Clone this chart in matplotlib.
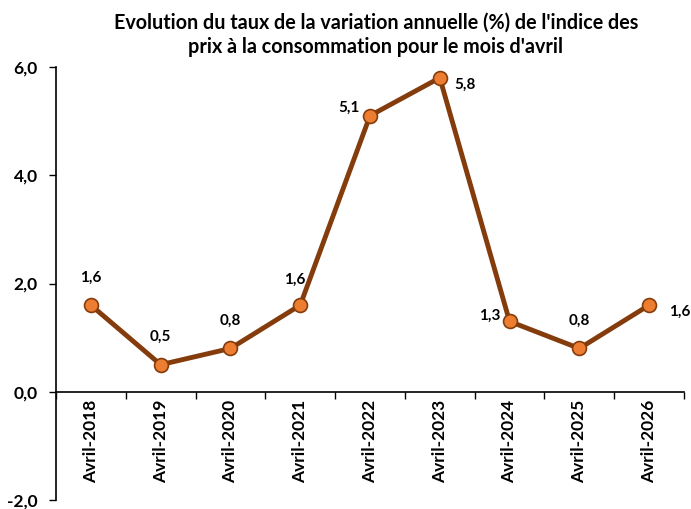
import numpy as np
import matplotlib.pyplot as plt
from matplotlib.ticker import FixedLocator, FuncFormatter, NullFormatter

plt.rcParams['font.family'] = ['Lato', 'DejaVu Sans']
plt.rcParams['font.weight'] = 'bold'

mois = ['Avril-2018', 'Avril-2019', 'Avril-2020', 'Avril-2021', 'Avril-2022',
        'Avril-2023', 'Avril-2024', 'Avril-2025', 'Avril-2026']
taux = [1.6, 0.5, 0.8, 1.6, 5.1, 5.8, 1.3, 0.8, 1.6]
# label offsets in points (dx, dy)
offs = [(0, 20), (0, 20), (0, 20), (-4, 18), (-15, 6), (18, -5), (-14, 4), (0, 20), (22, -5)]

fig = plt.figure(figsize=(6.91, 5.09), dpi=100)
ax = fig.add_axes([56/691, 1-500/509, 628/691, 433/509])

x = np.arange(len(mois))
ax.plot(x, taux, color='#843C0C', lw=3.5, marker='o', ms=10,
        mfc='#ED7D31', mec='#843C0C', mew=1.2, zorder=3)

for xi, v, (dx, dy) in zip(x, taux, offs):
    ax.annotate(f'{v:.1f}'.replace('.', ','), (xi, v), xytext=(dx, dy),
                textcoords='offset points', ha='center', va='center',
                fontsize=11, fontweight='bold')

ax.set_xlim(-0.5, len(mois) - 0.5)
ax.set_ylim(-2, 6)
ax.set_yticks([-2, 0, 2, 4, 6])
ax.yaxis.set_major_formatter(FuncFormatter(lambda v, p: f'{v:.1f}'.replace('.', ',')))

ax.xaxis.set_major_locator(FixedLocator(np.arange(-0.5, len(mois), 1)))
ax.xaxis.set_major_formatter(NullFormatter())
ax.set_xticks(x, minor=True)
ax.set_xticklabels(mois, minor=True, fontweight='bold')
ax.tick_params(axis='x', which='minor', length=0, pad=6, labelrotation=90, labelsize=12.5)
ax.tick_params(axis='x', which='major', length=5, width=1, direction='out')
ax.tick_params(axis='y', length=5, width=1, labelsize=12.5, pad=8)

ax.spines['top'].set_visible(False)
ax.spines['right'].set_visible(False)
ax.spines['bottom'].set_position(('data', 0))
for s in ['left', 'bottom']:
    ax.spines[s].set_linewidth(1.2)

fig.text(376/691, 1-35/509,
         "Evolution du taux de la variation annuelle (%) de l'indice des\nprix à la consommation pour le mois d'avril",
         ha='center', va='center', fontsize=14.2, fontweight='bold', linespacing=1.3)

fig.savefig('out.png', dpi=100)
